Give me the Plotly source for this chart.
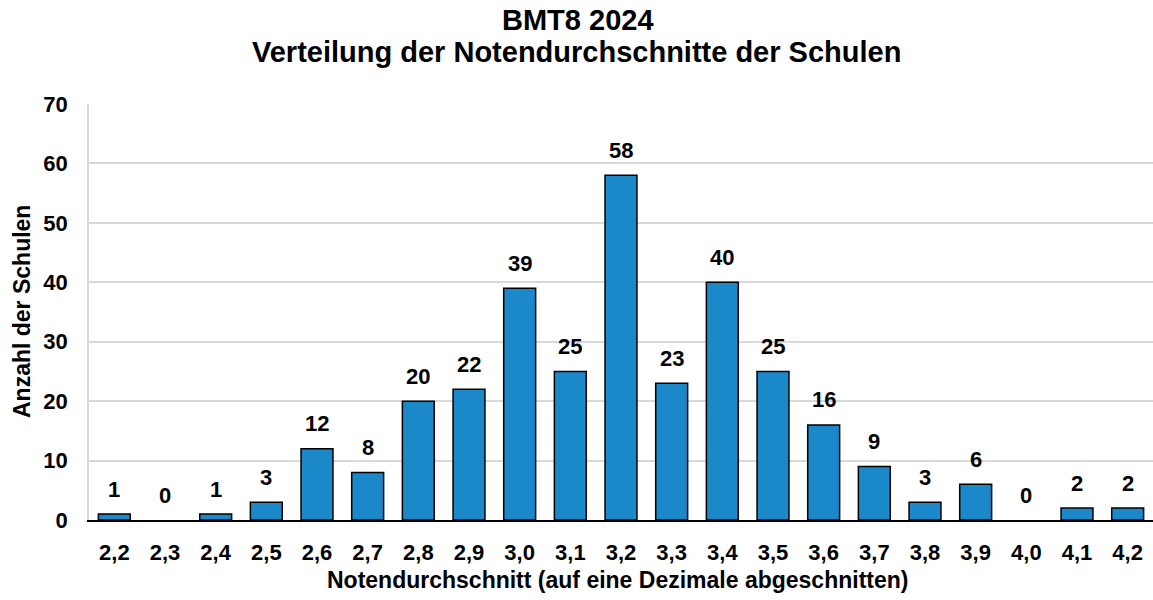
import plotly.graph_objects as go

categories = ["2,2", "2,3", "2,4", "2,5", "2,6", "2,7", "2,8", "2,9", "3,0", "3,1", "3,2",
              "3,3", "3,4", "3,5", "3,6", "3,7", "3,8", "3,9", "4,0", "4,1", "4,2"]
counts = [1, 0, 1, 3, 12, 8, 20, 22, 39, 25, 58, 23, 40, 25, 16, 9, 3, 6, 0, 2, 2]
y_ticks = [0, 10, 20, 30, 40, 50, 60, 70]

FONT = "Liberation Sans, Arial, sans-serif"

# plot area in pixels: left 89, right 1153, top 104, bottom 520
def px_x(p):
    return (p - 89) / 1064.0


def px_y(p):
    return (520 - p) / 416.0


def bold(size):
    return dict(family=FONT, size=size, color="black", weight="bold")


fig = go.Figure()
fig.add_trace(go.Bar(
    x=categories, y=counts,
    marker=dict(color="#1a88c9",
                line=dict(color="black", width=[1.5 if v > 0 else 0 for v in counts])),
    width=0.63,
    hoverinfo="x+y",
))

for c, v in zip(categories, counts):
    fig.add_annotation(x=c, y=v, text=str(v), showarrow=False,
                       yshift=25, font=bold(22))

common = dict(xref="paper", yref="paper", showarrow=False,
              xanchor="center", yanchor="middle")
fig.add_annotation(text="BMT8 2024", x=px_x(578), y=px_y(20), font=bold(29), **common)
fig.add_annotation(text="Verteilung der Notendurchschnitte der Schulen",
                   x=px_x(576), y=px_y(52), font=bold(29), **common)
fig.add_annotation(text="Notendurchschnitt (auf eine Dezimale abgeschnitten)",
                   x=px_x(617.5), y=px_y(580), font=bold(23), **common)
fig.add_annotation(text="Anzahl der Schulen", x=px_x(22), y=px_y(312),
                   textangle=-90, font=bold(23), **common)

fig.update_layout(
    width=1153, height=600,
    margin=dict(l=89, r=0, t=104, b=80),
    paper_bgcolor="white", plot_bgcolor="white",
    showlegend=False,
    xaxis=dict(
        tickfont=bold(22),
        showline=True, linecolor="black", linewidth=1.5,
        ticks="", showgrid=False, ticklabelstandoff=12,
    ),
    yaxis=dict(
        range=[0, 70], tickvals=y_ticks,
        tickfont=bold(22),
        showgrid=True, gridcolor="#d9d9d9", gridwidth=1.5,
        showline=True, linecolor="#d9d9d9", linewidth=1.5,
        zeroline=False, ticks="", ticklabelstandoff=15,
    ),
)

fig.write_html("out.html", config={"displayModeBar": False},
               post_script="document.body.style.margin='0';document.body.style.overflow='hidden';")
